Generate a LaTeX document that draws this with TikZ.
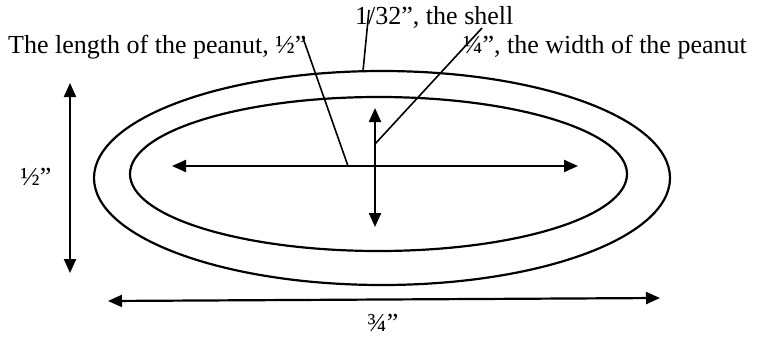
\documentclass[tikz,border=0pt]{standalone}
\usepackage{fontspec}
\setmainfont{Liberation Serif}
\usetikzlibrary{arrows.meta,shapes.geometric}
\begin{document}
\begin{tikzpicture}[x=1pt,y=-1pt,
  shellline/.style={draw,ellipse,line width=2.2pt,inner sep=0pt},
  dimarrow/.style={line width=2.2pt,{Triangle[length=14pt,width=12pt]}-{Triangle[length=14pt,width=12pt]}},
  leader/.style={line width=1.6pt},
  lbl/.style={font=\fontsize{26}{30}\selectfont,inner sep=0pt}]
\useasboundingbox (0,0) rectangle (757,337);
% shell outlines
\node[shellline,minimum width=576pt,minimum height=214pt] (outer) at (382,178) {};
\node[shellline,minimum width=497pt,minimum height=154pt] (inner) at (378.5,174) {};
% dimension arrow end points
\coordinate (hL) at (172,166);
\coordinate (hR) at (578,166);
\coordinate (vT) at (375,108);
\coordinate (vB) at (375,227);
\coordinate (lT) at (70,83);
\coordinate (lB) at (70,273);
\coordinate (bL) at (108,301);
\coordinate (bR) at (660,298);
\draw[dimarrow] (hL) -- (hR);
\draw[dimarrow] (vT) -- (vB);
\draw[dimarrow] (lT) -- (lB);
\draw[dimarrow] (bL) -- (bR);
% labels
\node[lbl,anchor=base west] (shell) at (355,25) {1/32”, the shell};
\node[lbl,anchor=base west] (length) at (8,53) {The length of the peanut, ½”};
\node[lbl,anchor=base east] (width) at (747,53) {¼”, the width of the peanut};
\node[lbl] (half) at (36,177) {½”};
\node[lbl,anchor=base] (threeq) at (383,331) {¾”};
% leader lines
\coordinate (sTop) at (369,10);
\coordinate (sBot) at (363,71);
\coordinate (lenTop) at (303,38);
\coordinate (lenBot) at (348,166);
\coordinate (wTop) at (482,28);
\coordinate (wBot) at (375,144);
\draw[leader] (sTop) -- (sBot);
\draw[leader] (lenTop) -- (lenBot);
\draw[leader] (wTop) -- (wBot);
\end{tikzpicture}
\end{document}
